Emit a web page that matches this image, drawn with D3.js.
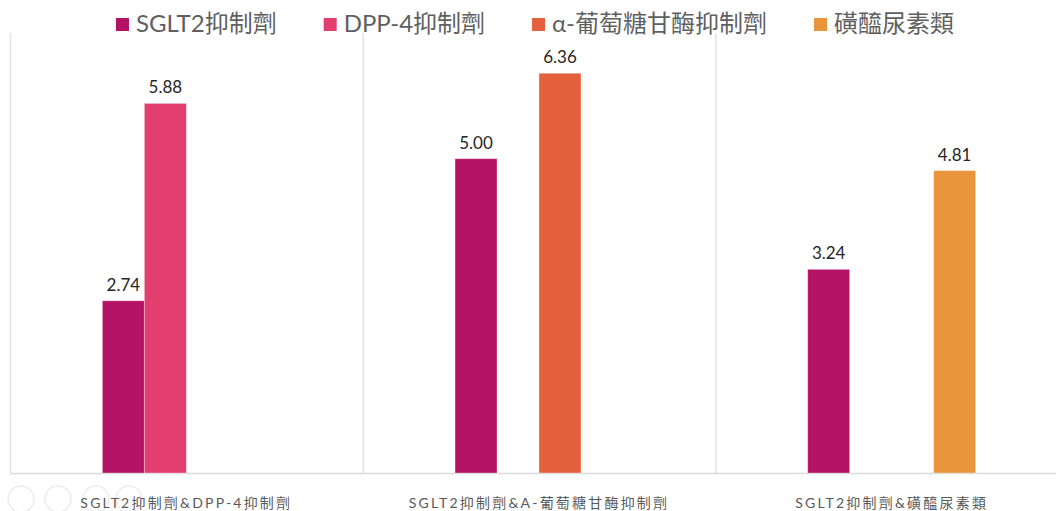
<!DOCTYPE html>
<html>
<head>
<meta charset="utf-8">
<script src="https://cdn.jsdelivr.net/npm/d3@7"></script>
<style>
  body { margin: 0; background: #fff; }
  svg { display: block; font-family: "Century Gothic", Lato, "Noto Sans CJK TC", sans-serif; }
</style>
</head>
<body>
<div id="chart"></div>
<script>
// data
const groups = ["SGLT2抑制劑&DPP-4抑制劑", "SGLT2抑制劑&A-葡萄糖甘酶抑制劑", "SGLT2抑制劑&磺醯尿素類"];
const seriesNames = ["SGLT2抑制劑", "DPP-4抑制劑", "α-葡萄糖甘酶抑制劑", "磺醯尿素類"];
const seriesColors = ["#b41264", "#e33e70", "#e5603d", "#e9953b"];
const sglt2Values = [2.74, 5.00, 3.24];
const dpp4Values = [5.88, null, null];
const alphaValues = [null, 6.36, null];
const suValues = [null, null, 4.81];

const width = 1056, height = 511;
const baseY = 473, topY = 33;

let svg = d3.select("#chart")
    .append("svg")
    .attr("width", width)
    .attr("height", height);

// flatten to one row per bar
let allValues = [sglt2Values, dpp4Values, alphaValues, suValues];
let barData = [];
groups.forEach((g, gi) => {
    seriesNames.forEach((s, si) => {
        let v = allValues[si][gi];
        if (v != null) barData.push({group: g, series: s, value: v, color: seriesColors[si]});
    });
});

// scales
let x0 = d3.scaleBand()
    .domain(groups)
    .range([10, 1068])
    .padding(0);

let x1 = d3.scaleBand()
    .domain(seriesNames)
    .range([0, x0.bandwidth()])
    .paddingInner(0)
    .paddingOuter(2.2);

let y = d3.scaleLinear()
    .domain([0, 7])
    .range([baseY, topY]);

// faint toolbar circles bottom left
[21, 58, 96, 129].forEach(cx => {
    svg.append("circle")
        .attr("cx", cx).attr("cy", 499).attr("r", 13)
        .attr("fill", "none")
        .attr("stroke", "#ececec")
        .attr("stroke-width", 1.5);
});

// group separators
let gridG = svg.append("g");
groups.forEach(g => {
    gridG.append("line")
        .attr("x1", x0(g) + 0.5).attr("x2", x0(g) + 0.5)
        .attr("y1", topY).attr("y2", baseY)
        .attr("stroke", "#e2e2e2")
        .attr("stroke-width", 1.5);
});

// bottom axis line
gridG.append("line")
    .attr("x1", 10).attr("x2", width)
    .attr("y1", baseY + 0.5).attr("y2", baseY + 0.5)
    .attr("stroke", "#d9d9d9")
    .attr("stroke-width", 1.5);

// bars
svg.append("g")
    .selectAll("rect")
    .data(barData)
    .enter()
    .append("rect")
        .attr("x", d => x0(d.group) + x1(d.series))
        .attr("y", d => y(d.value))
        .attr("width", x1.bandwidth())
        .attr("height", d => baseY - y(d.value))
        .attr("fill", d => d.color)
        .attr("stroke", "#fff")
        .attr("stroke-opacity", 0.4)
        .attr("stroke-width", 0.8);

// value labels
svg.append("g")
    .selectAll("text")
    .data(barData)
    .enter()
    .append("text")
        .attr("x", d => x0(d.group) + x1(d.series) + x1.bandwidth() / 2)
        .attr("y", d => y(d.value) - 10)
        .attr("text-anchor", "middle")
        .style("font-size", "17px")
        .style("fill", "#262626")
        .text(d => d.value.toFixed(2));

// category labels
svg.append("g")
    .selectAll("text")
    .data(groups)
    .enter()
    .append("text")
        .attr("x", d => x0(d) + x0.bandwidth() / 2)
        .attr("y", 508)
        .attr("text-anchor", "middle")
        .style("font-size", "14px")
        .style("letter-spacing", "2.2px")
        .style("fill", "#595959")
        .text(d => d);

// legend, laid out from measured widths and centred
let legend = svg.append("g");
let items = seriesNames.map((s, i) => {
    let item = legend.append("g");
    item.append("rect")
        .attr("x", 0).attr("y", 18)
        .attr("width", 13).attr("height", 13)
        .attr("fill", seriesColors[i]);
    let t = item.append("text")
        .attr("x", 20).attr("y", 32)
        .style("font-size", "24px")
        .style("fill", "#5f5f5f")
        .text(s);
    return {item: item, w: 20 + t.node().getComputedTextLength()};
});
let gap = 47;
let total = d3.sum(items, d => d.w) + gap * (items.length - 1);
let lx = 535 - total / 2;
items.forEach(d => {
    d.item.attr("transform", `translate(${lx}, 0)`);
    lx += d.w + gap;
});
</script>
</body>
</html>
